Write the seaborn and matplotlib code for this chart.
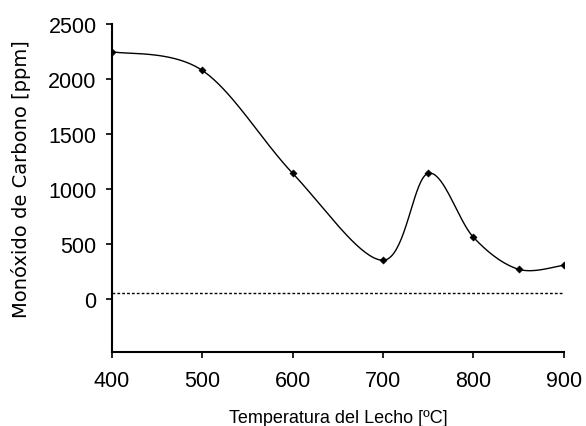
import numpy as np
import pandas as pd
import matplotlib
matplotlib.use("Agg")
import matplotlib.pyplot as plt
import seaborn as sns

temperatura = [400, 500, 600, 700, 750, 800, 850, 900]
co_ppm = [2250, 2080, 1145, 355, 1145, 564, 273, 310]
limite = 55
xticks = [400, 500, 600, 700, 800, 900]
yticks = [0, 500, 1000, 1500, 2000, 2500]

sns.set_theme(style="ticks")
plt.rcParams['font.family'] = ['Liberation Sans', 'DejaVu Sans']

df = pd.DataFrame({"T": temperatura, "CO": co_ppm})


def catmull_rom(x, y, n=40):
    x = np.asarray(x, float)
    y = np.asarray(y, float)
    px = np.concatenate([[x[0]], x, [x[-1]]])
    py = np.concatenate([[y[0]], y, [y[-1]]])
    xs, ys = [], []
    for i in range(1, len(px) - 2):
        p0 = np.array([px[i - 1], py[i - 1]])
        p1 = np.array([px[i], py[i]])
        p2 = np.array([px[i + 1], py[i + 1]])
        p3 = np.array([px[i + 2], py[i + 2]])
        c1 = p1 + (p2 - p0) / 6.0
        c2 = p2 - (p3 - p1) / 6.0
        t = np.linspace(0, 1, n)[:, None]
        b = ((1 - t) ** 3) * p1 + 3 * ((1 - t) ** 2) * t * c1 + 3 * (1 - t) * t ** 2 * c2 + t ** 3 * p2
        xs.append(b[:, 0])
        ys.append(b[:, 1])
    return np.concatenate(xs), np.concatenate(ys)


sx, sy = catmull_rom(temperatura, co_ppm)
smooth = pd.DataFrame({"T": sx, "CO": sy})

fig = plt.figure(figsize=(5.86, 4.27), dpi=100)
ax = fig.add_axes([0.191, 0.173, 0.771, 0.768])

sns.lineplot(data=smooth, x="T", y="CO", ax=ax, color="black", lw=1.0, sort=False, estimator=None)
sns.scatterplot(data=df, x="T", y="CO", ax=ax, color="black", marker="D", s=14, edgecolor="black", zorder=3)
ax.axhline(limite, color="black", lw=1.0, ls=(0, (2, 1.5)))

ax.set_xlim(400, 900)
ax.set_ylim(-480, 2500)
ax.set_xticks(xticks)
ax.set_yticks(yticks)
ax.tick_params(axis="both", labelsize=15.5, length=4, width=1.2, color="black",
               labelcolor="black", direction="out")
ax.tick_params(axis="x", pad=9)
ax.tick_params(axis="y", pad=7)
for s in ["top", "right"]:
    ax.spines[s].set_visible(False)
for s in ["left", "bottom"]:
    ax.spines[s].set_linewidth(1.5)
    ax.spines[s].set_color("black")
ax.set_xlabel("Temperatura del Lecho [ºC]", fontsize=13,
              family=['Liberation Sans Narrow', 'Liberation Sans'], color="black", labelpad=13)
ax.set_ylabel("Monóxido de Carbono [ppm]", fontsize=14,
              family=['DejaVu Sans'], color="black")
ax.yaxis.set_label_coords(-0.18, 0.53)

fig.savefig("out.png", dpi=100)
